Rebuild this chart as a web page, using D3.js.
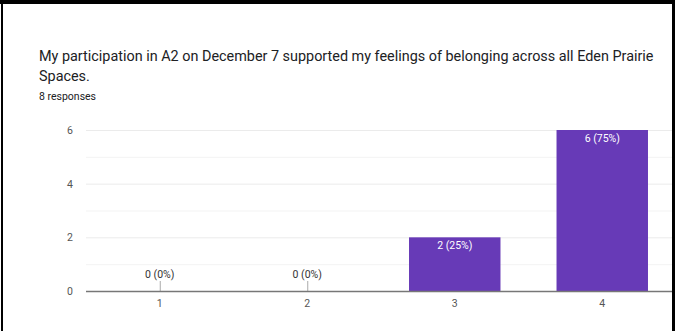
<!DOCTYPE html>
<html>
<head>
<meta charset="utf-8">
<script src="https://cdn.jsdelivr.net/npm/d3@7"></script>
<style>
  html, body { margin: 0; padding: 0; background: #fff; }
  svg { display: block; font-family: Roboto, "Noto Sans", sans-serif; }
</style>
</head>
<body>
<svg id="chart" width="675" height="331"></svg>
<script>
const titleLines = ["My participation in A2 on December 7 supported my feelings of belonging across all Eden Prairie", "Spaces."];
const subtitle = "8 responses";
const categories = ["1", "2", "3", "4"];
const values = [0, 0, 2, 6];
const totalResponses = 8;
const yTicks = [0, 2, 4, 6];
const yMinorTicks = [1, 3, 5];

const svg = d3.select("#chart");
const W = 675, H = 331;
const margin = { left: 86, right: -1 };

svg.append("rect").attr("width", W).attr("height", H).attr("fill", "#fff");

// Title
const t = svg.append("text").attr("x", 39).attr("y", 61)
  .attr("font-size", 14.4).attr("fill", "#202124");
titleLines.forEach((l, i) => t.append("tspan").attr("x", 39).attr("y", 61 + i * 20).text(l));
svg.append("text").attr("x", 39).attr("y", 100).attr("font-size", 10.5)
  .attr("fill", "#202124").text(subtitle);

const x = d3.scaleBand().domain(categories).range([margin.left, W - margin.right]).paddingInner(0.38).paddingOuter(0.19);
const y = d3.scaleLinear().domain([0, 6]).range([291, 130]);

// Gridlines
svg.append("g").selectAll("line").data(yMinorTicks.concat(yTicks.filter(d => d > 0))).join("line")
  .attr("x1", margin.left).attr("x2", W)
  .attr("y1", d => y(d) + 0.5).attr("y2", d => y(d) + 0.5)
  .attr("stroke", d => yTicks.includes(d) ? "#ebebeb" : "#f3f3f3").attr("stroke-width", 1);

// Y axis labels
const yAxis = d3.axisLeft(y).tickValues(yTicks).tickSize(0).tickPadding(0).tickFormat(d3.format("d"));
const ya = svg.append("g").attr("transform", `translate(73,0)`).call(yAxis);
ya.select(".domain").remove();
ya.selectAll("text").attr("font-size", 10.5).attr("fill", "#555").attr("font-family", "Roboto, sans-serif")
  .attr("text-anchor", "middle").attr("dx", -3);

// Bars
svg.append("g").selectAll("rect").data(values.map((v, i) => ({ c: categories[i], v })).filter(d => d.v > 0)).join("rect")
  .attr("x", d => x(d.c)).attr("width", x.bandwidth())
  .attr("y", d => y(d.v)).attr("height", d => y(0) - y(d.v))
  .attr("fill", "#673ab7");

// Zero stubs
const data = values.map((v, i) => ({ c: categories[i], v, label: `${v} (${Math.round(v / totalResponses * 100)}%)` }));
svg.append("g").selectAll("line").data(data.filter(d => d.v === 0)).join("line")
  .attr("x1", d => x(d.c) + x.bandwidth() / 2 + 0.5).attr("x2", d => x(d.c) + x.bandwidth() / 2 + 0.5)
  .attr("y1", y(0) - 10).attr("y2", y(0)).attr("stroke", "#aaa").attr("stroke-width", 1);

// Value labels
svg.append("g").selectAll("text").data(data).join("text")
  .attr("x", d => x(d.c) + x.bandwidth() / 2)
  .attr("y", d => d.v === 0 ? y(0) - 13 : y(d.v) + 12)
  .attr("text-anchor", "middle").attr("font-size", 10.5)
  .attr("fill", d => d.v === 0 ? "#333" : "#fff")
  .text(d => d.label);

// X axis
const xAxis = d3.axisBottom(x).tickSize(0).tickPadding(9);
const xa = svg.append("g").attr("transform", `translate(0,${y(0)})`).call(xAxis);
xa.select(".domain").remove();
xa.selectAll("text").attr("font-size", 10.5).attr("fill", "#555").attr("font-family", "Roboto, sans-serif");
svg.append("line").attr("x1", margin.left).attr("x2", W).attr("y1", y(0) + 0.5).attr("y2", y(0) + 0.5)
  .attr("stroke", "#777").attr("stroke-width", 1.5);

// Photo frame borders
svg.append("rect").attr("x", 0).attr("y", 0).attr("width", W).attr("height", 4).attr("fill", "#000");
svg.append("rect").attr("x", 1).attr("y", 0).attr("width", 2).attr("height", H).attr("fill", "#000");
svg.append("rect").attr("x", 672).attr("y", 0).attr("width", 3).attr("height", H).attr("fill", "#000");
</script>
</body>
</html>
